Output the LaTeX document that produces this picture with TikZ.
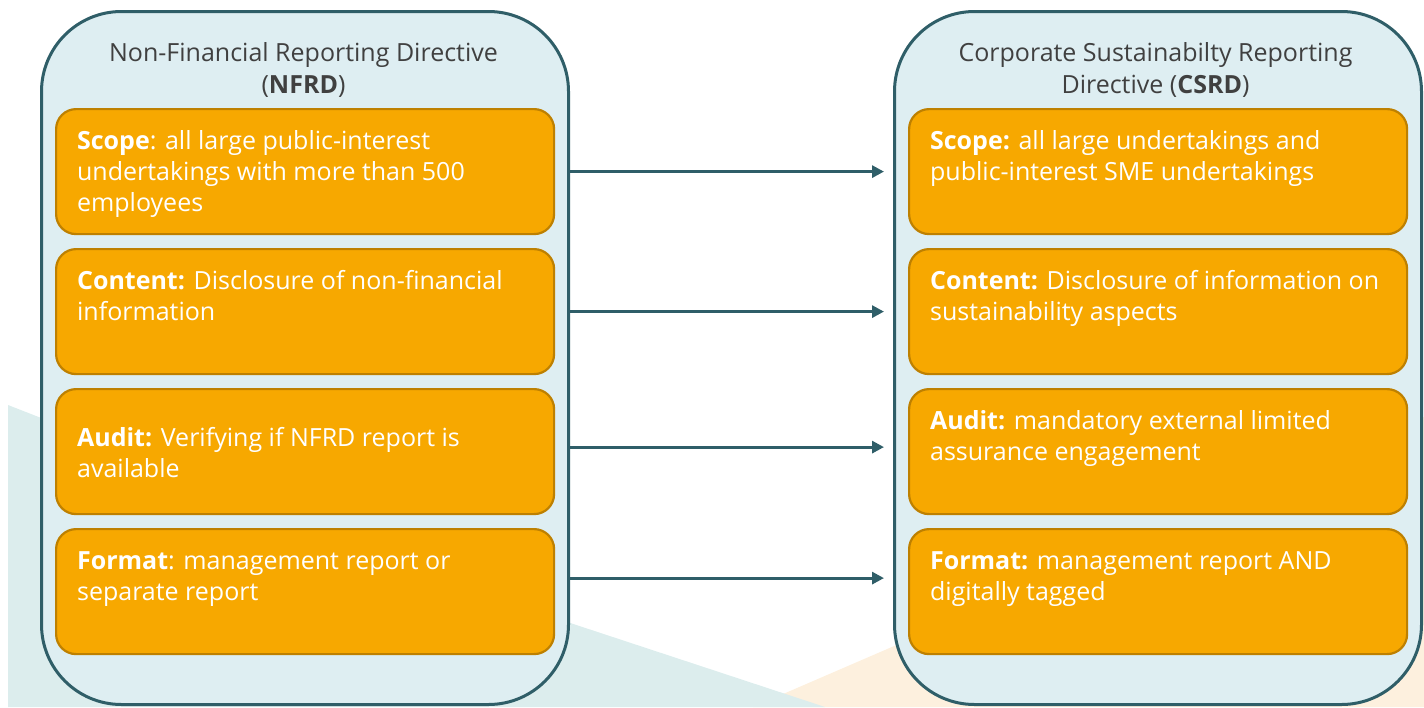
\documentclass[tikz,border=0pt]{standalone}
\usepackage{fontspec}
\setmainfont{Open Sans}
\usepackage{xcolor}
\usepackage{tikz}
\usetikzlibrary{arrows.meta}

\definecolor{panelfill}{RGB}{222,238,242}
\definecolor{paneldraw}{RGB}{47,94,104}
\definecolor{itemfill}{RGB}{247,168,0}
\definecolor{itemdraw}{RGB}{190,128,0}
\definecolor{titlegrey}{RGB}{64,64,64}
\definecolor{bgteal}{RGB}{220,237,237}
\definecolor{bgpeach}{RGB}{253,240,222}

% text of one orange box, [t] = top, [c] = centred
\newcommand{\itemtxt}[2][t]{\parbox[t][44pt][#1]{228pt}{\raggedright\strut#2}}

\begin{document}
\begin{tikzpicture}[x=0.5pt,y=-0.5pt,
	panel/.style={draw=paneldraw, line width=1.5pt, fill=panelfill, rounded corners=40pt,
		minimum width=263.5pt, minimum height=346.5pt, inner sep=0pt, anchor=north west},
	paneltitle/.style={text=titlegrey, align=center, font=\fontsize{12.5}{16}\selectfont},
	item/.style={draw=itemdraw, line width=1.1pt, fill=itemfill, rounded corners=10pt,
		inner xsep=10.5pt, inner ysep=9.25pt, text=white, anchor=north west,
		font=\fontsize{12.5}{15.5}\selectfont},
	link/.style={draw=paneldraw, line width=1.5pt, -{Triangle[length=6pt,width=6pt]}, shorten >=4.5pt}]
	\useasboundingbox (0,0) rectangle (1424,707);
	
	%Background shapes
	\fill[bgpeach] (753,707) -- (1424,417) -- (1424,707) -- cycle;
	\fill[bgteal] (8,405) -- (540,613) -- (825,707) -- (8,707) -- cycle;
	
	%Panels
	\node[panel] (nfrd) at (40,10) {};
	\node[panel] (csrd) at (893,10) {};
	
	% Text Node
	\node[paneltitle] (nfrdtitle) at (303.5,70) {Non-Financial Reporting Directive\\(\textbf{NFRD})};
	% Text Node
	\node[paneltitle] (csrdtitle) at (1155.5,70) {Corporate Sustainabilty Reporting\\Directive (\textbf{CSRD})};
	
	%NFRD boxes
	\node[item] (n1) at (55,108) {\itemtxt{\textbf{Scope}: all large public-interest\\undertakings with more than 500\\employees}};
	\node[item] (n2) at (55,248) {\itemtxt{\textbf{Content:} Disclosure of non-financial\\information}};
	\node[item] (n3) at (55,388) {\itemtxt[c]{\textbf{Audit:} Verifying if NFRD report is\\available}};
	\node[item] (n4) at (55,528) {\itemtxt{\textbf{Format}: management report or\\separate report}};
	
	%CSRD boxes
	\node[item] (c1) at (908,108) {\itemtxt{\textbf{Scope:} all large undertakings and\\public-interest SME undertakings}};
	\node[item] (c2) at (908,248) {\itemtxt{\textbf{Content:} Disclosure of information on\\sustainability aspects}};
	\node[item] (c3) at (908,388) {\itemtxt{\textbf{Audit:} mandatory external limited\\assurance engagement}};
	\node[item] (c4) at (908,528) {\itemtxt{\textbf{Format:} management report AND\\digitally tagged}};
	
	%Arrows
	\path ([yshift=2.25pt]n3.east) coordinate (a3) ([yshift=6.75pt]n4.east) coordinate (a4);
	\draw[link] (nfrd.east |- n1) -- (csrd.west |- n1);
	\draw[link] (nfrd.east |- n2) -- (csrd.west |- n2);
	\draw[link] (nfrd.east |- a3) -- (csrd.west |- a3);
	\draw[link] (nfrd.east |- a4) -- (csrd.west |- a4);
	
\end{tikzpicture}
\end{document}
